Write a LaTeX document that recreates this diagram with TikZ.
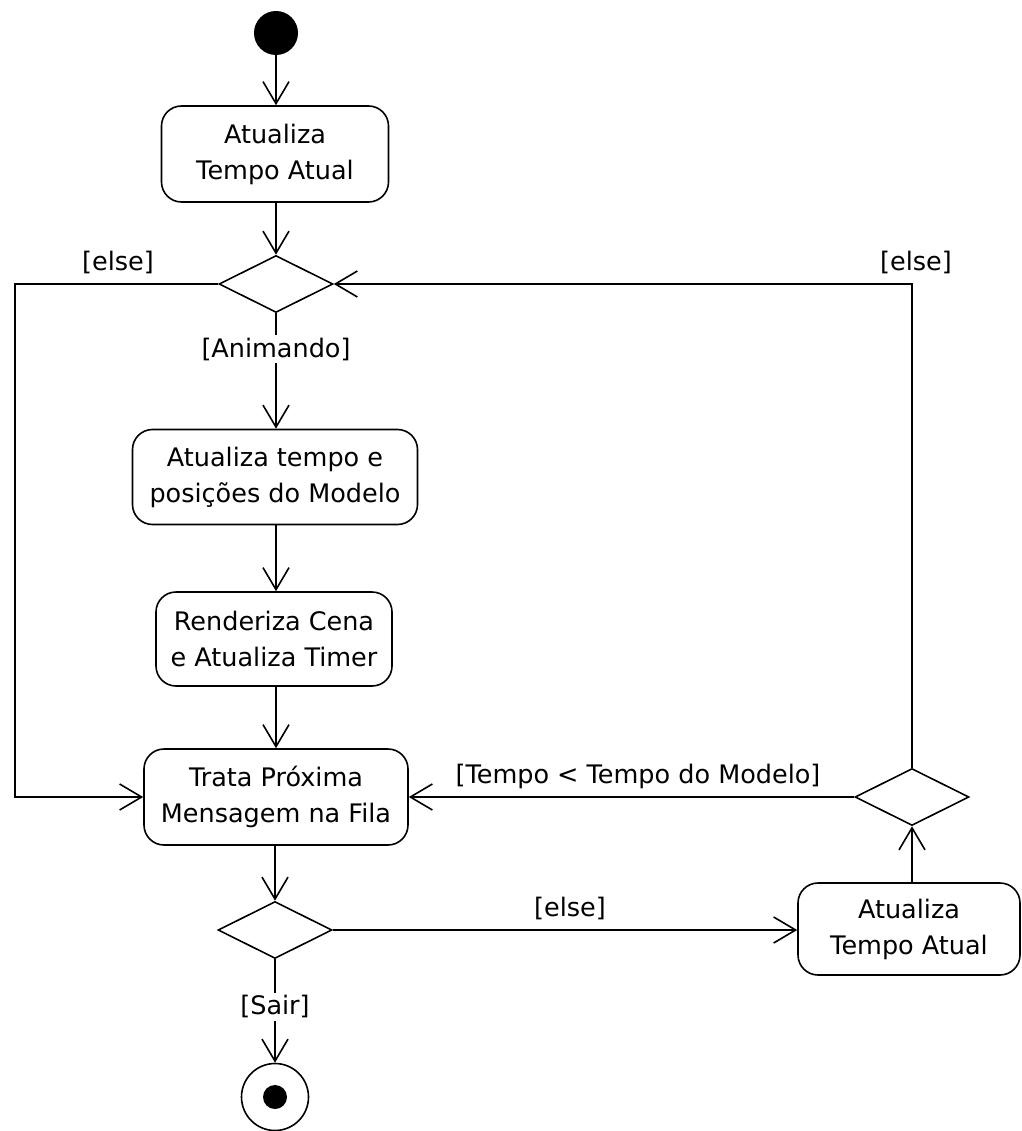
\documentclass[tikz,border=0pt]{standalone}
\usepackage{fontspec}
\setmainfont{DejaVu Sans}
\usetikzlibrary{arrows.meta,shapes.geometric}

\tikzset{
  every node/.style={font=\fontsize{25.5}{36}\selectfont},
  activity/.style={draw, line width=1.6pt, rounded corners=20pt, align=center, inner sep=0pt},
  decision/.style={draw, diamond, line width=1.6pt, inner sep=0pt, minimum width=114pt, minimum height=57pt},
  flow/.style={line width=1.6pt, -{Straight Barb[length=22pt,width=26pt,line width=1.6pt]}},
  guard/.style={inner sep=2pt},
  cutguard/.style={fill=white, inner sep=3pt}
}

\begin{document}
\begin{tikzpicture}[x=1pt, y=-1pt]
  \useasboundingbox (0,0) rectangle (1021,1131);

  % initial and final states
  \node[circle, fill=black, minimum size=44pt, inner sep=0pt] (start) at (276,33) {};
  \node[circle, draw, line width=1.6pt, minimum size=67pt, inner sep=0pt] (stop) at (275,1097) {};
  \node[circle, fill=black, minimum size=24pt, inner sep=0pt] (stopdot) at (275,1097) {};

  % actions
  \node[activity, minimum width=227pt, minimum height=96pt] (upd1) at (275,154) {Atualiza\\Tempo Atual};
  \node[activity, minimum width=285pt, minimum height=95pt] (model) at (275,477) {Atualiza tempo e\\posições do Modelo};
  \node[activity, minimum width=236pt, minimum height=94pt] (render) at (274,639) {Renderiza Cena\\e Atualiza Timer};
  \node[activity, minimum width=264pt, minimum height=96pt] (msg) at (276,797) {Trata Próxima\\Mensagem na Fila};
  \node[activity, minimum width=222pt, minimum height=92pt] (upd2) at (909,929) {Atualiza\\Tempo Atual};

  % decisions
  \node[decision] (d1) at (276,284) {};
  \node[decision] (d2) at (275,930) {};
  \node[decision] (d3) at (912,797) {};

  % routing corner on the left
  \coordinate (leftcol) at (15,284);

  % flows down the main column, kept vertical
  \draw[flow] (start) -- (start |- upd1.north);
  \draw[flow] (upd1.south -| d1.north) -- (d1.north);
  \draw[flow] (d1.south) -- node[cutguard, pos=0.31] {[Animando]} (d1.south |- model.north);
  \draw[flow] (model.south -| d1.south) -- (d1.south |- render.north);
  \draw[flow] (render.south -| d1.south) -- (d1.south |- msg.north);
  \draw[flow] (msg.south -| d2.north) -- (d2.north);
  \draw[flow] (d2.south) -- node[cutguard, pos=0.46] {[Sair]} (stop);

  % side branches and the loop back
  \draw[flow] (d1.west) -- (leftcol) |- (msg.west);
  \draw[flow] (d3.north) |- (d1.east);
  \draw[flow] (d2.east) -- (upd2.west |- d2.east);
  \draw[flow] (upd2.north -| d3.south) -- (d3.south);
  \draw[flow] (d3.west) -- (msg.east |- d3.west);

  % guards
  \node[guard] (gleft) at (118,262) {[else]};
  \node[guard] (gright) at (916,262) {[else]};
  \node[guard] (gtime) at (638,776) {[Tempo < Tempo do Modelo]};
  \node[guard] (gexit) at (570,908) {[else]};
\end{tikzpicture}
\end{document}
